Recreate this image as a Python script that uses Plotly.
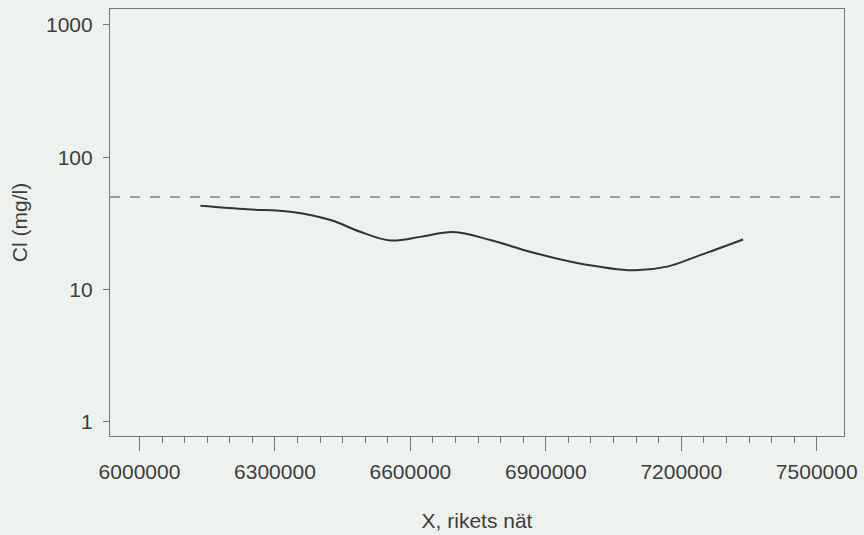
import plotly.graph_objects as go

# Data
x_pos = [6135000, 6239000, 6334000, 6423000, 6489000, 6556000, 6622000, 6695000,
         6777000, 6865000, 6969000, 7093000, 7169000, 7242000, 7337000]
cl_mgl = [43.0, 40.4, 38.7, 33.5, 27.3, 23.5, 25.0, 27.2,
          23.7, 19.3, 15.9, 14.0, 14.9, 18.2, 23.9]
threshold = 50
x_range = [5934700, 7560400]
y_tickvals = [1, 10, 100, 1000]
x_tickvals = [6000000, 6300000, 6600000, 6900000, 7200000, 7500000]
x_minor_tickvals = [v for v in range(6000000, 7500001, 50000) if v not in x_tickvals]

fig = go.Figure()
fig.add_trace(go.Scatter(
    x=x_range, y=[threshold, threshold], mode="lines",
    line=dict(color="#808080", width=1.3, dash="10px,10px"),
    hoverinfo="skip", showlegend=False))
fig.add_trace(go.Scatter(
    x=x_pos, y=cl_mgl, mode="lines", line_shape="spline",
    line=dict(color="#333333", width=2), showlegend=False))

font = dict(family="Liberation Sans, Arial, sans-serif", size=21, color="#3d3d3d")
fig.update_layout(
    width=864, height=535,
    margin=dict(l=110, r=20, t=9, b=99),
    paper_bgcolor="#eef2ee", plot_bgcolor="#eef2ee",
    font=font, showlegend=False,
    xaxis=dict(
        range=x_range, tickvals=x_tickvals, ticktext=[str(v) for v in x_tickvals],
        ticks="outside", ticklen=14, tickwidth=1.2, tickcolor="#777",
        minor=dict(tickvals=x_minor_tickvals, ticks="outside", ticklen=6,
                   tickwidth=1.2, tickcolor="#777", showgrid=False),
        showline=True, linecolor="#777", linewidth=1.2, mirror=True,
        showgrid=False, zeroline=False, ticklabelstandoff=3, automargin=False,
        title=dict(text="X, rikets nät", standoff=31, font=font)),
    yaxis=dict(
        type="log", range=[-0.106, 3.119], tickvals=y_tickvals,
        ticktext=[str(v) for v in y_tickvals],
        ticks="outside", ticklen=6, tickwidth=1.2, tickcolor="#777",
        showline=True, linecolor="#777", linewidth=1.2, mirror=True,
        showgrid=False, zeroline=False, ticklabelstandoff=6, automargin=False,
        title=dict(text="Cl (mg/l)", standoff=12, font=font)),
)
fig.write_html("out.html", config={"displayModeBar": False},
               post_script="document.body.style.margin='0';document.body.style.background='#eef2ee';")
